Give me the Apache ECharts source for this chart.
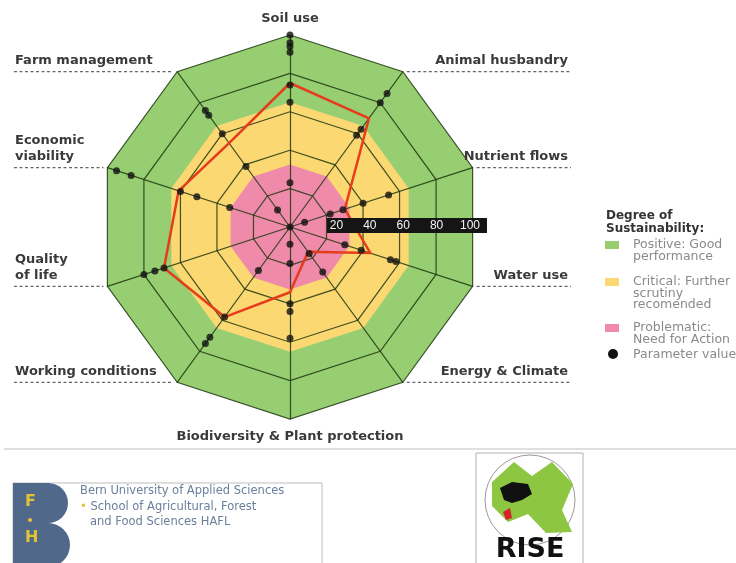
<!DOCTYPE html>
<html><head><meta charset="utf-8">
<script src="https://cdn.jsdelivr.net/npm/echarts@6/dist/echarts.min.js"></script>
<style>html,body{margin:0;padding:0;background:#fff}#c{width:736px;height:563px}</style>
</head><body><div id="c"></div>
<script>
// ---- data ----
const indicators = ['Soil use','Animal husbandry','Nutrient flows','Water use','Energy & Climate','Biodiversity & Plant protection','Working conditions','Quality of life','Economic viability','Farm management'];
const axisTexts = ['Soil use','Animal husbandry','Nutrient flows','Water use','Energy & Climate','Biodiversity & Plant protection','Working conditions','Quality\nof life','Economic\nviability','Farm management'];
const redValues = [75,70,30,44,16,34,58,69,61,54];
const paramValues = [
  [0,23,65,74,91,94,96,100],
  [59,63,80,86],
  [8,22,29,40,54],
  [30,39,55,58],
  [17,29],
  [9,19,40,44,58],
  [28,58,71,75],
  [69,74,80],
  [33,51,60,87,95],
  [11,39,60,72,75]
];
const scaleTicks = [20,40,60,80,100];
const zoneLimits = [32.5, 65, 100];
const zoneNames = ['Problematic', 'Critical', 'Positive'];

// ---- layout / style ----
const cx = 290, cy = 227, R = 192;
const zoneColors = ['#ef8aaa', '#fcd872', '#97ce72'];
const gridColor = 'rgba(30,55,15,0.85)';
const labelFont = '"DejaVu Sans", sans-serif';

const radarOrder = [0,9,8,7,6,5,4,3,2,1]; // radar lays out counter-clockwise
const radarIndicators = radarOrder.map(i => ({name: indicators[i], min: 0, max: 100}));

const dots = [];
paramValues.forEach((vals, i) => vals.forEach(v => dots.push([v, indicators[i]])));

// zone polygons (outermost first so inner ones sit on top)
const zoneSeries = zoneLimits.map((lim, k) => k).reverse().map(k => ({
  type: 'radar', radarIndex: 0, symbol: 'none', z: 1, silent: true,
  lineStyle: {width: 0, opacity: 0},
  areaStyle: {color: zoneColors[k], opacity: 1},
  data: [{name: zoneNames[k], value: radarOrder.map(() => zoneLimits[k])}]
}));

function vertex(i) {
  const a = (90 - 36 * i) * Math.PI / 180;
  return [cx + R * Math.cos(a), cy - R * Math.sin(a)];
}

const g = [];
// axis names + dotted leaders
indicators.forEach((n, i) => {
  const [vx, vy] = vertex(i);
  const base = {type: 'text', z: 30, style: {text: axisTexts[i], font: 'bold 13px ' + labelFont, fill: '#3a3a3a', lineHeight: 16}};
  if (i === 0) {
    base.style.x = vx; base.style.y = vy - 16; base.style.textAlign = 'center'; base.style.textVerticalAlign = 'middle';
  } else if (i === 5) {
    base.style.x = vx; base.style.y = vy + 18; base.style.textAlign = 'center'; base.style.textVerticalAlign = 'middle';
  } else if (i < 5) {
    base.style.x = 568; base.style.y = vy - 3; base.style.textAlign = 'right'; base.style.textVerticalAlign = 'bottom';
    g.push({type: 'line', z: 30, shape: {x1: vx + 4, y1: vy, x2: 571, y2: vy}, style: {stroke: '#666', lineWidth: 1.3, lineDash: [3, 2.5]}});
  } else {
    base.style.x = 15; base.style.y = vy - 3; base.style.textAlign = 'left'; base.style.textVerticalAlign = 'bottom';
    g.push({type: 'line', z: 30, shape: {x1: 14, y1: vy, x2: vx - 4, y2: vy}, style: {stroke: '#666', lineWidth: 1.3, lineDash: [3, 2.5]}});
  }
  g.push(base);
});

// scale bar background
g.push({type: 'rect', z: 10, shape: {x: 327, y: 218, width: 160, height: 15}, style: {fill: '#151515'}});

// legend
const legFont = '12.5px ' + labelFont;
g.push({type: 'text', z: 30, style: {x: 606, y: 209, text: 'Degree of\nSustainability:', font: 'bold 12px ' + labelFont, fill: '#333', lineHeight: 13, textVerticalAlign: 'top'}});
const legItems = [
  {c: zoneColors[2], y: 245, t: 'Positive: Good\nperformance'},
  {c: zoneColors[1], y: 282, t: 'Critical: Further\nscrutiny\nrecomended'},
  {c: zoneColors[0], y: 328, t: 'Problematic:\nNeed for Action'}
];
legItems.forEach(it => {
  g.push({type: 'rect', z: 30, shape: {x: 605, y: it.y - 4, width: 14, height: 8}, style: {fill: it.c}});
  g.push({type: 'text', z: 30, style: {x: 633, y: it.y - 6, text: it.t, font: legFont, fill: '#8a8a8a', lineHeight: 11.5, textVerticalAlign: 'top'}});
});
g.push({type: 'circle', z: 30, shape: {cx: 613, cy: 354, r: 5}, style: {fill: '#111'}});
g.push({type: 'text', z: 30, style: {x: 633, y: 348, text: 'Parameter value', font: legFont, fill: '#8a8a8a', textVerticalAlign: 'top'}});

// bottom separator
g.push({type: 'line', z: 30, shape: {x1: 4, y1: 449, x2: 736, y2: 449}, style: {stroke: '#d4d4d4', lineWidth: 1.5}});

// BFH logo block
g.push({type: 'rect', z: 30, shape: {x: 13, y: 483, width: 309, height: 95}, style: {fill: '#fff', stroke: '#bdbdbd', lineWidth: 1}});
g.push({type: 'rect', z: 31, shape: {x: 13, y: 483, width: 36, height: 85}, style: {fill: '#50698a'}});
g.push({type: 'sector', z: 31, shape: {cx: 48, cy: 503, r0: 0, r: 20, startAngle: -Math.PI / 2, endAngle: Math.PI / 2}, style: {fill: '#50698a'}});
g.push({type: 'sector', z: 31, shape: {cx: 48, cy: 545, r0: 0, r: 22, startAngle: -Math.PI / 2, endAngle: Math.PI / 2}, style: {fill: '#50698a'}});
g.push({type: 'text', z: 32, style: {x: 25, y: 502, text: 'F', font: 'bold 16px ' + labelFont, fill: '#e4c233', textVerticalAlign: 'middle'}});
g.push({type: 'text', z: 32, style: {x: 25, y: 538, text: 'H', font: 'bold 16px ' + labelFont, fill: '#e4c233', textVerticalAlign: 'middle'}});
g.push({type: 'circle', z: 32, shape: {cx: 30, cy: 520, r: 2}, style: {fill: '#e4c233'}});
g.push({type: 'text', z: 32, style: {x: 80, y: 491, text: 'Bern University of Applied Sciences', font: '11.5px ' + labelFont, fill: '#6a7f9b', textVerticalAlign: 'middle'}});
g.push({type: 'text', z: 32, style: {x: 80, y: 507, text: '{b|•} School of Agricultural, Forest', font: '11.5px ' + labelFont, fill: '#6a7f9b', textVerticalAlign: 'middle', rich: {b: {fill: '#e4c233', font: '11.5px ' + labelFont}}}});
g.push({type: 'text', z: 32, style: {x: 90, y: 522, text: 'and Food Sciences HAFL', font: '11.5px ' + labelFont, fill: '#6a7f9b', textVerticalAlign: 'middle'}});

// RISE logo block
g.push({type: 'rect', z: 30, shape: {x: 476, y: 453, width: 107, height: 115}, style: {fill: '#fff', stroke: '#b0b0b0', lineWidth: 1}});
g.push({type: 'circle', z: 31, shape: {cx: 530, cy: 500, r: 45}, style: {fill: '#fff', stroke: '#9a9a9a', lineWidth: 1}});
g.push({type: 'polygon', z: 32, shape: {points: [[492,482],[514,462],[532,476],[552,462],[573,484],[562,510],[572,532],[546,533],[528,514],[508,522],[492,506]]}, style: {fill: '#8dc641'}});
g.push({type: 'polygon', z: 33, shape: {points: [[500,488],[512,482],[528,484],[532,494],[522,500],[512,503],[504,500]]}, style: {fill: '#111'}});
g.push({type: 'polygon', z: 33, shape: {points: [[503,512],[510,508],[512,518],[506,520]]}, style: {fill: '#d8222a'}});
g.push({type: 'text', z: 33, style: {x: 530, y: 550, text: 'RISE', font: 'bold 27px ' + labelFont, fill: '#111', textAlign: 'center', textVerticalAlign: 'middle'}});

const chart = echarts.init(document.getElementById('c'), null, {renderer: 'canvas'});
chart.setOption({
  animation: false,
  backgroundColor: '#fff',
  radar: [
    {center: [cx, cy], radius: R, startAngle: 90, splitNumber: scaleTicks.length, shape: 'polygon', indicator: radarIndicators,
     axisName: {show: false}, axisLine: {show: true, lineStyle: {color: gridColor, width: 1.2}}, axisTick: {show: false}, axisLabel: {show: false},
     splitLine: {show: true, lineStyle: {color: gridColor, width: 1.2}}, splitArea: {show: false}, z: 2}
  ],
  polar: [
    {center: [cx, cy], radius: R},
    {center: [303, 226], radius: 167}
  ],
  angleAxis: [
    {polarIndex: 0, type: 'category', data: indicators, startAngle: 108, clockwise: true, boundaryGap: true,
     axisLine: {show: false}, axisTick: {show: false}, axisLabel: {show: false}, splitLine: {show: false}},
    {polarIndex: 1, type: 'value', min: 0, max: 360, startAngle: 0, show: false}
  ],
  radiusAxis: [
    {polarIndex: 0, type: 'value', min: 0, max: 100, show: false},
    {polarIndex: 1, type: 'value', min: 0, max: scaleTicks[scaleTicks.length - 1], interval: scaleTicks[1] - scaleTicks[0], z: 20,
     axisLine: {show: false}, axisTick: {show: false}, splitLine: {show: false}, splitArea: {show: false},
     axisLabel: {show: true, showMinLabel: false, margin: 0, verticalAlign: 'middle', color: '#f4f4f4', fontSize: 12, fontFamily: 'Liberation Sans'}}
  ],
  series: zoneSeries.concat([
    {type: 'radar', radarIndex: 0, symbol: 'none', z: 3, silent: true,
     lineStyle: {color: '#e63c1c', width: 2.5},
     data: [{value: radarOrder.map(i => redValues[i]), name: 'Score'}]},
    {type: 'scatter', coordinateSystem: 'polar', polarIndex: 0, symbol: 'circle', symbolSize: 7, z: 4,
     itemStyle: {color: '#111'}, data: dots}
  ]),
  graphic: {elements: g}
});
</script>
</body></html>
